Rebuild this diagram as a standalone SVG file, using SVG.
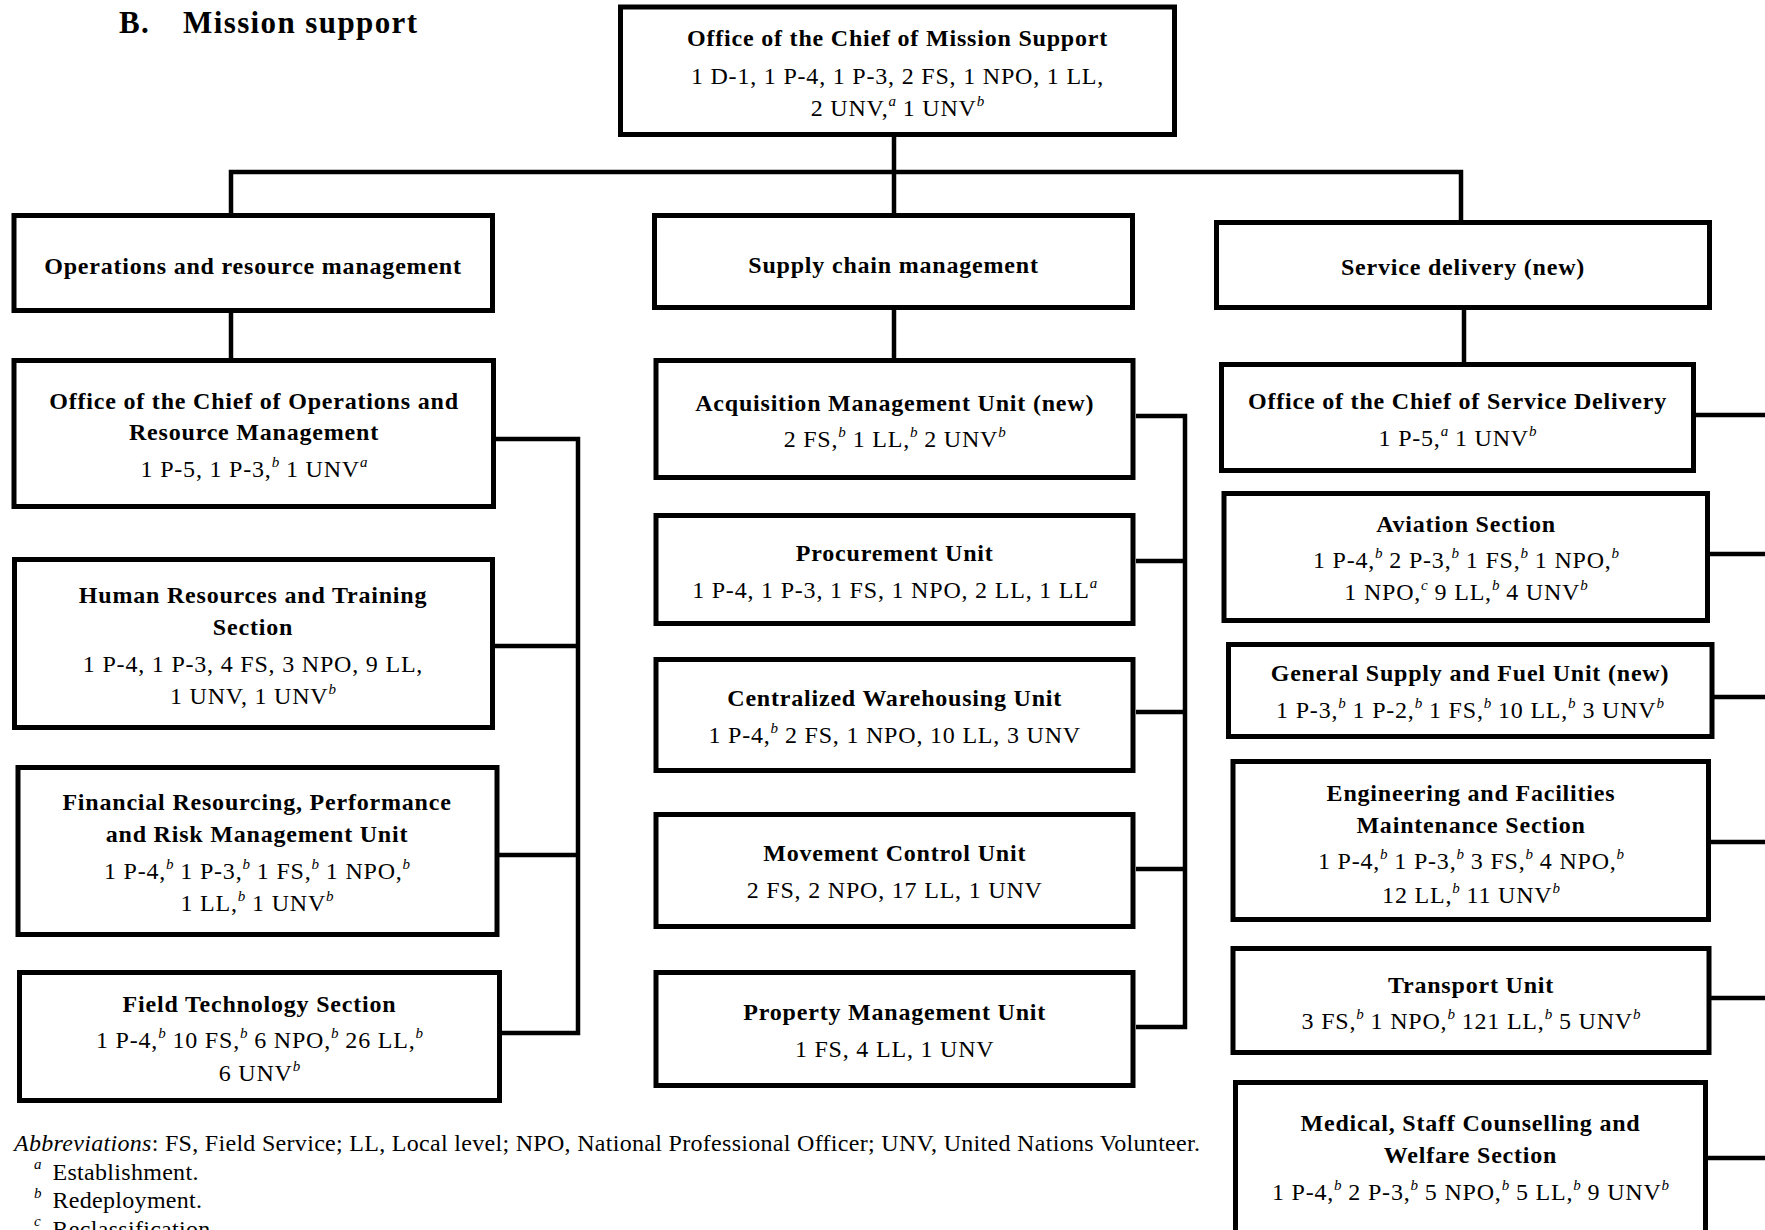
<svg xmlns="http://www.w3.org/2000/svg" width="1765" height="1230" viewBox="0 0 1765 1230">
<style>
.box{fill:#fff;stroke:#000;stroke-width:5}
.con{fill:none;stroke:#000;stroke-width:4.5;stroke-linejoin:miter}
text{font-family:"Liberation Serif","Times New Roman",serif;fill:#000}
.b{font-weight:bold;font-size:24px;letter-spacing:0.8px;text-anchor:middle}
.r{font-size:24px;letter-spacing:0.8px;text-anchor:middle}
.sup{font-style:italic;font-size:15px;letter-spacing:0px;font-weight:normal}
.ttl{font-weight:bold;font-size:31px;letter-spacing:1.4px}
.fn{font-size:24px;letter-spacing:0.3px}
</style>
<rect width="1765" height="1230" fill="#fff"/>
<text class="ttl" x="119" y="33">B.</text>
<text class="ttl" x="183" y="33">Mission support</text>

<g id="connectors">
<path class="con" d="M894 137 V215"/>
<path class="con" d="M231 215 V172 H1461 V222"/>
<path class="con" d="M231 313 V358"/>
<path class="con" d="M894 310 V358"/>
<path class="con" d="M1464 310 V362"/>
<path class="con" d="M496 439 H578 V1033 H502"/>
<path class="con" d="M494 646 H578"/>
<path class="con" d="M499 855 H578"/>
<path class="con" d="M1136 416 H1185 V1027 H1136"/>
<path class="con" d="M1136 561 H1185"/>
<path class="con" d="M1136 712 H1185"/>
<path class="con" d="M1136 869 H1185"/>
<path class="con" d="M1696 415 H1765"/>
<path class="con" d="M1710 554 H1765"/>
<path class="con" d="M1714 697 H1765"/>
<path class="con" d="M1711 842 H1765"/>
<path class="con" d="M1711 998 H1765"/>
<path class="con" d="M1708 1158 H1765"/>
</g>

<g id="chief-mission-support">
<rect class="box" x="620.5" y="7" width="554" height="127.5"/>
<text class="b" x="897.5" y="46">Office of the Chief of Mission Support</text>
<text class="r" x="897.5" y="84">1 D-1, 1 P-4, 1 P-3, 2 FS, 1 NPO, 1 LL,</text>
<text class="r" x="897.5" y="116">2 UNV,<tspan class="sup" dy="-10">a</tspan><tspan dy="10"> 1 UNV</tspan><tspan class="sup" dy="-10">b</tspan></text>
</g>

<g id="ops-resource-mgmt">
<rect class="box" x="14" y="215.5" width="478.5" height="95"/>
<text class="b" x="253" y="274">Operations and resource management</text>
</g>
<g id="supply-chain-mgmt">
<rect class="box" x="654.5" y="215.5" width="478" height="92"/>
<text class="b" x="893.5" y="273">Supply chain management</text>
</g>
<g id="service-delivery">
<rect class="box" x="1216.5" y="222.5" width="493" height="85"/>
<text class="b" x="1463" y="275">Service delivery (new)</text>
</g>

<g id="office-chief-ops">
<rect class="box" x="14" y="360.5" width="479.5" height="146"/>
<text class="b" x="254" y="409">Office of the Chief of Operations and</text>
<text class="b" x="254" y="440">Resource Management</text>
<text class="r" x="254" y="477">1 P-5, 1 P-3,<tspan class="sup" dy="-10">b</tspan><tspan dy="10"> 1 UNV</tspan><tspan class="sup" dy="-10">a</tspan></text>
</g>
<g id="hr-training">
<rect class="box" x="14.5" y="559.5" width="478" height="168"/>
<text class="b" x="253" y="603">Human Resources and Training</text>
<text class="b" x="253" y="635">Section</text>
<text class="r" x="253" y="672">1 P-4, 1 P-3, 4 FS, 3 NPO, 9 LL,</text>
<text class="r" x="253" y="704">1 UNV, 1 UNV<tspan class="sup" dy="-10">b</tspan></text>
</g>
<g id="financial-resourcing">
<rect class="box" x="18" y="767.5" width="479" height="167"/>
<text class="b" x="257" y="810">Financial Resourcing, Performance</text>
<text class="b" x="257" y="842">and Risk Management Unit</text>
<text class="r" x="257" y="879">1 P-4,<tspan class="sup" dy="-10">b</tspan><tspan dy="10"> 1 P-3,</tspan><tspan class="sup" dy="-10">b</tspan><tspan dy="10"> 1 FS,</tspan><tspan class="sup" dy="-10">b</tspan><tspan dy="10"> 1 NPO,</tspan><tspan class="sup" dy="-10">b</tspan></text>
<text class="r" x="257" y="911">1 LL,<tspan class="sup" dy="-10">b</tspan><tspan dy="10"> 1 UNV</tspan><tspan class="sup" dy="-10">b</tspan></text>
</g>
<g id="field-technology">
<rect class="box" x="19.5" y="972.5" width="480" height="128"/>
<text class="b" x="259.5" y="1012">Field Technology Section</text>
<text class="r" x="259.5" y="1048">1 P-4,<tspan class="sup" dy="-10">b</tspan><tspan dy="10"> 10 FS,</tspan><tspan class="sup" dy="-10">b</tspan><tspan dy="10"> 6 NPO,</tspan><tspan class="sup" dy="-10">b</tspan><tspan dy="10"> 26 LL,</tspan><tspan class="sup" dy="-10">b</tspan></text>
<text class="r" x="259.5" y="1081">6 UNV<tspan class="sup" dy="-10">b</tspan></text>
</g>

<g id="acquisition">
<rect class="box" x="656" y="360.5" width="477" height="117"/>
<text class="b" x="894.7" y="411">Acquisition Management Unit (new)</text>
<text class="r" x="894.7" y="447">2 FS,<tspan class="sup" dy="-10">b</tspan><tspan dy="10"> 1 LL,</tspan><tspan class="sup" dy="-10">b</tspan><tspan dy="10"> 2 UNV</tspan><tspan class="sup" dy="-10">b</tspan></text>
</g>
<g id="procurement">
<rect class="box" x="656" y="515.5" width="477" height="108"/>
<text class="b" x="894.7" y="560.5">Procurement Unit</text>
<text class="r" x="894.7" y="598">1 P-4, 1 P-3, 1 FS, 1 NPO, 2 LL, 1 LL<tspan class="sup" dy="-10">a</tspan></text>
</g>
<g id="warehousing">
<rect class="box" x="656" y="659.5" width="477" height="111"/>
<text class="b" x="894.7" y="706">Centralized Warehousing Unit</text>
<text class="r" x="894.7" y="743">1 P-4,<tspan class="sup" dy="-10">b</tspan><tspan dy="10"> 2 FS, 1 NPO, 10 LL, 3 UNV</tspan></text>
</g>
<g id="movement-control">
<rect class="box" x="656" y="814.5" width="477" height="112"/>
<text class="b" x="894.7" y="861">Movement Control Unit</text>
<text class="r" x="894.7" y="898">2 FS, 2 NPO, 17 LL, 1 UNV</text>
</g>
<g id="property-mgmt">
<rect class="box" x="656" y="972.5" width="477" height="113"/>
<text class="b" x="894.7" y="1020">Property Management Unit</text>
<text class="r" x="894.7" y="1057">1 FS, 4 LL, 1 UNV</text>
</g>

<g id="office-chief-service">
<rect class="box" x="1221.5" y="364.5" width="472" height="106"/>
<text class="b" x="1457.5" y="409">Office of the Chief of Service Delivery</text>
<text class="r" x="1457.5" y="446">1 P-5,<tspan class="sup" dy="-10">a</tspan><tspan dy="10"> 1 UNV</tspan><tspan class="sup" dy="-10">b</tspan></text>
</g>
<g id="aviation">
<rect class="box" x="1224" y="493.5" width="483.5" height="127"/>
<text class="b" x="1466" y="532">Aviation Section</text>
<text class="r" x="1466" y="567.5">1 P-4,<tspan class="sup" dy="-10">b</tspan><tspan dy="10"> 2 P-3,</tspan><tspan class="sup" dy="-10">b</tspan><tspan dy="10"> 1 FS,</tspan><tspan class="sup" dy="-10">b</tspan><tspan dy="10"> 1 NPO,</tspan><tspan class="sup" dy="-10">b</tspan></text>
<text class="r" x="1466" y="600">1 NPO,<tspan class="sup" dy="-10">c</tspan><tspan dy="10"> 9 LL,</tspan><tspan class="sup" dy="-10">b</tspan><tspan dy="10"> 4 UNV</tspan><tspan class="sup" dy="-10">b</tspan></text>
</g>
<g id="general-supply">
<rect class="box" x="1228.5" y="644.5" width="483.5" height="92"/>
<text class="b" x="1470" y="681">General Supply and Fuel Unit (new)</text>
<text class="r" x="1470" y="718">1 P-3,<tspan class="sup" dy="-10">b</tspan><tspan dy="10"> 1 P-2,</tspan><tspan class="sup" dy="-10">b</tspan><tspan dy="10"> 1 FS,</tspan><tspan class="sup" dy="-10">b</tspan><tspan dy="10"> 10 LL,</tspan><tspan class="sup" dy="-10">b</tspan><tspan dy="10"> 3 UNV</tspan><tspan class="sup" dy="-10">b</tspan></text>
</g>
<g id="engineering">
<rect class="box" x="1233" y="761.5" width="475.5" height="158"/>
<text class="b" x="1471" y="801">Engineering and Facilities</text>
<text class="b" x="1471" y="833">Maintenance Section</text>
<text class="r" x="1471" y="869">1 P-4,<tspan class="sup" dy="-10">b</tspan><tspan dy="10"> 1 P-3,</tspan><tspan class="sup" dy="-10">b</tspan><tspan dy="10"> 3 FS,</tspan><tspan class="sup" dy="-10">b</tspan><tspan dy="10"> 4 NPO,</tspan><tspan class="sup" dy="-10">b</tspan></text>
<text class="r" x="1471" y="903">12 LL,<tspan class="sup" dy="-10">b</tspan><tspan dy="10"> 11 UNV</tspan><tspan class="sup" dy="-10">b</tspan></text>
</g>
<g id="transport">
<rect class="box" x="1233" y="948.5" width="476" height="104"/>
<text class="b" x="1471" y="993">Transport Unit</text>
<text class="r" x="1471" y="1029">3 FS,<tspan class="sup" dy="-10">b</tspan><tspan dy="10"> 1 NPO,</tspan><tspan class="sup" dy="-10">b</tspan><tspan dy="10"> 121 LL,</tspan><tspan class="sup" dy="-10">b</tspan><tspan dy="10"> 5 UNV</tspan><tspan class="sup" dy="-10">b</tspan></text>
</g>
<g id="medical">
<rect class="box" x="1235.5" y="1082.5" width="470" height="200"/>
<text class="b" x="1470.5" y="1131">Medical, Staff Counselling and</text>
<text class="b" x="1470.5" y="1163">Welfare Section</text>
<text class="r" x="1470.5" y="1200">1 P-4,<tspan class="sup" dy="-10">b</tspan><tspan dy="10"> 2 P-3,</tspan><tspan class="sup" dy="-10">b</tspan><tspan dy="10"> 5 NPO,</tspan><tspan class="sup" dy="-10">b</tspan><tspan dy="10"> 5 LL,</tspan><tspan class="sup" dy="-10">b</tspan><tspan dy="10"> 9 UNV</tspan><tspan class="sup" dy="-10">b</tspan></text>
</g>

<g id="footnotes">
<text class="fn" x="14" y="1151"><tspan font-style="italic">Abbreviations</tspan>: FS, Field Service; LL, Local level; NPO, National Professional Officer; UNV, United Nations Volunteer.</text>
<text class="sup" x="34" y="1169">a</text>
<text class="fn" x="52.5" y="1179.5">Establishment.</text>
<text class="sup" x="34" y="1198">b</text>
<text class="fn" x="52.5" y="1208">Redeployment.</text>
<text class="sup" x="34" y="1226">c</text>
<text class="fn" x="52.5" y="1236.5">Reclassification.</text>
</g>
</svg>
